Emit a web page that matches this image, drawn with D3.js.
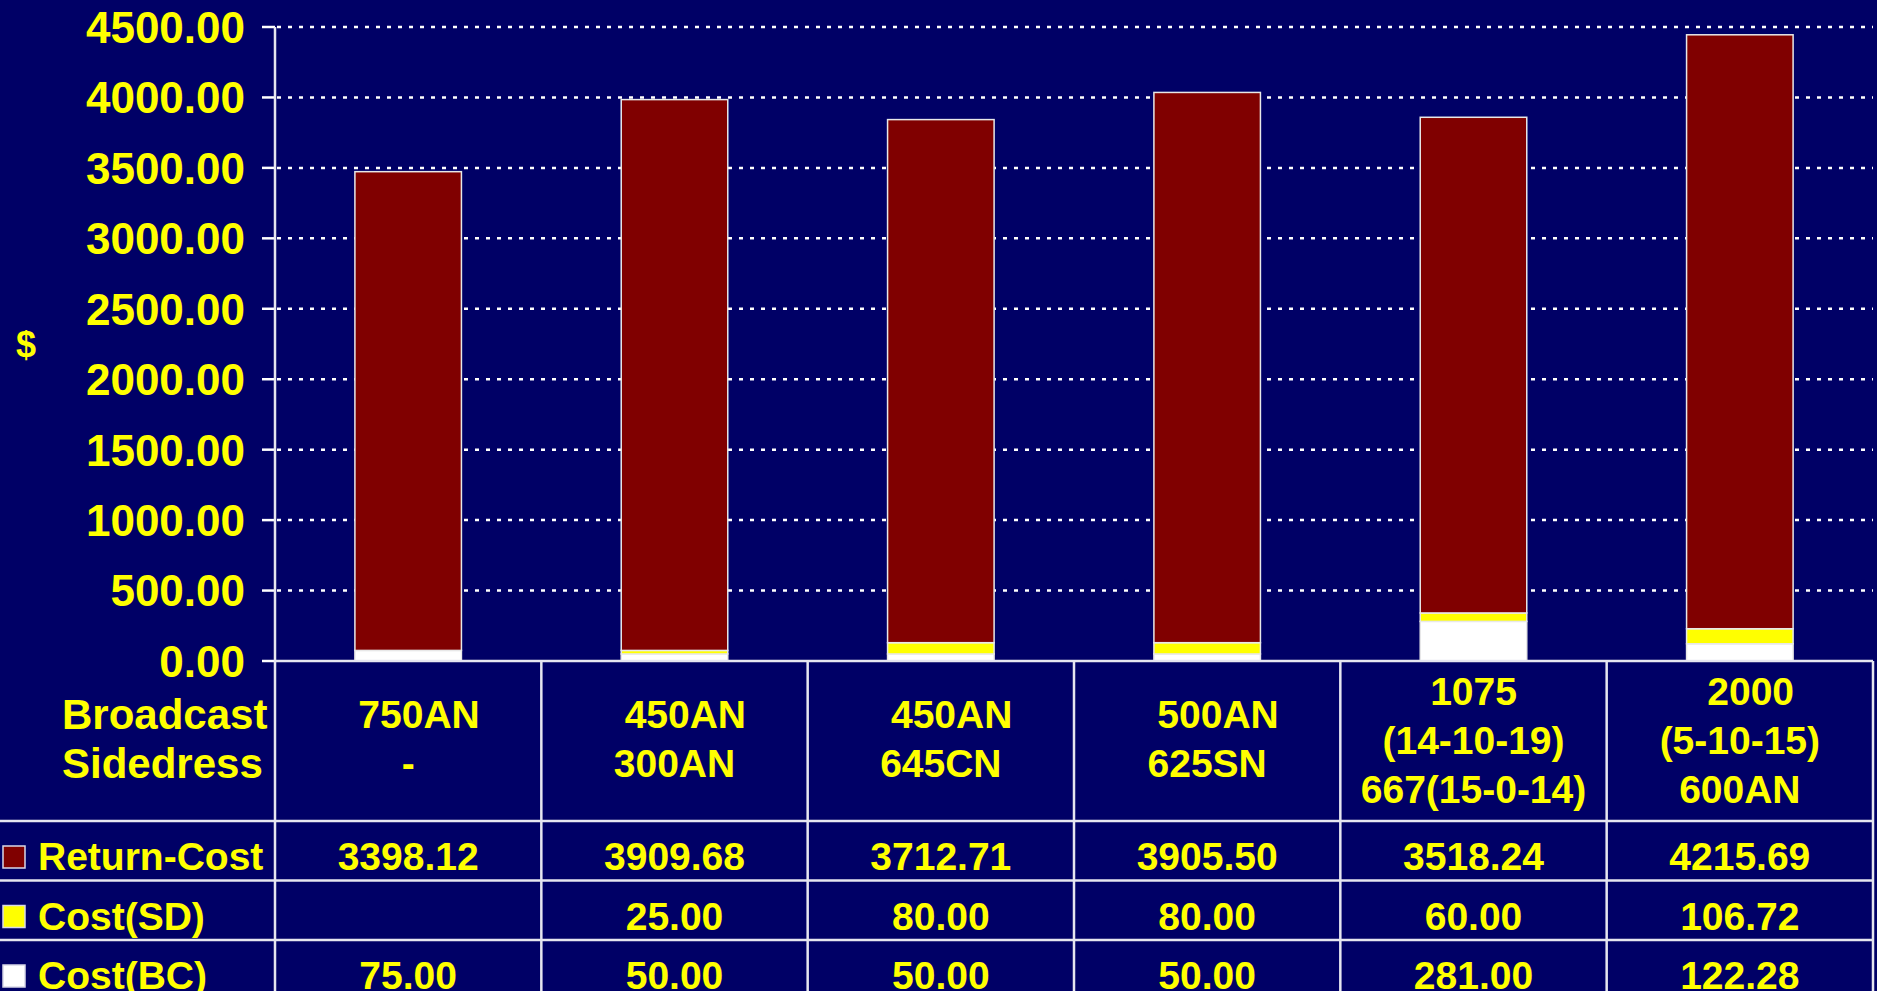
<!DOCTYPE html>
<html>
<head>
<meta charset="utf-8">
<script src="https://cdn.jsdelivr.net/npm/d3@7"></script>
<style>
  html, body { margin: 0; padding: 0; background: #000066; overflow: hidden; }
  svg { display: block; }
  text { font-family: "Liberation Sans", Arial, sans-serif; font-weight: bold; fill: #ffff00; white-space: pre; }
</style>
</head>
<body>
<svg id="chart" width="1877" height="991"></svg>
<script>
var categories = [
  ["  750AN", "-"],
  ["  450AN", "300AN"],
  ["  450AN", "645CN"],
  ["  500AN", "625SN"],
  ["1075", "(14-10-19)", "667(15-0-14)"],
  ["  2000", "(5-10-15)", "600AN"]
];
var rowHeader = ["Broadcast", "Sidedress"];
var seriesNames = ["Return-Cost", "Cost(SD)", "Cost(BC)"];
var seriesColors = ["#800000", "#ffff00", "#ffffff"];
var returnCost = [3398.12, 3909.68, 3712.71, 3905.50, 3518.24, 4215.69];
var costSD = [null, 25.00, 80.00, 80.00, 60.00, 106.72];
var costBC = [75.00, 50.00, 50.00, 50.00, 281.00, 122.28];
var yTicks = [0, 500, 1000, 1500, 2000, 2500, 3000, 3500, 4000, 4500];

var svg = d3.select("#chart"),
  width = +svg.attr("width"),
  height = +svg.attr("height"),
  plotLeft = 275,
  plotRight = 1873,
  plotTop = 27,
  base = 661,
  rowTops = [821, 880.5, 940],
  lineColor = "#e6e6f0";

var fmt = d3.format(".2f");

var y = d3.scaleLinear()
  .domain([0, 4500])
  .range([base, plotTop]);

var x = d3.scaleBand()
  .domain(d3.range(categories.length))
  .range([plotLeft, plotRight])
  .paddingInner(0.6)
  .paddingOuter(0.3);

var step = x.step();

var rows = categories.map(function(c, i) {
  return {rc: returnCost[i], sd: costSD[i] || 0, bc: costBC[i]};
});
var keys = ["bc", "sd", "rc"];
var colorByKey = {rc: seriesColors[0], sd: seriesColors[1], bc: seriesColors[2]};
var stacked = d3.stack().keys(keys)(rows);

svg.append("rect")
  .attr("width", width)
  .attr("height", height)
  .attr("fill", "#000066");

// dotted gridlines + ticks
var grid = svg.append("g");
grid.selectAll("line.grid")
  .data(yTicks.filter(function(d) { return d > 0; }))
  .enter().append("line")
  .attr("class", "grid")
  .attr("x1", plotLeft + 2)
  .attr("x2", plotRight)
  .attr("y1", function(d) { return y(d); })
  .attr("y2", function(d) { return y(d); })
  .attr("stroke", "#ffffff")
  .attr("stroke-width", 2.5)
  .attr("stroke-dasharray", "4,7");

grid.selectAll("line.tick")
  .data(yTicks)
  .enter().append("line")
  .attr("class", "tick")
  .attr("x1", plotLeft - 13)
  .attr("x2", plotLeft)
  .attr("y1", function(d) { return y(d); })
  .attr("y2", function(d) { return y(d); })
  .attr("stroke", "#ffffff")
  .attr("stroke-width", 2.5);

grid.selectAll("text")
  .data(yTicks)
  .enter().append("text")
  .attr("x", 245)
  .attr("y", function(d) { return y(d); })
  .attr("dy", "0.36em")
  .attr("text-anchor", "end")
  .style("font-size", "44px")
  .text(function(d) { return fmt(d); });

svg.append("text")
  .attr("x", 26)
  .attr("y", (plotTop + base) / 2)
  .attr("dy", "0.36em")
  .attr("text-anchor", "middle")
  .style("font-size", "36px")
  .text("$");

// stacked bars
svg.append("g")
  .selectAll("g")
  .data(stacked)
  .enter().append("g")
  .attr("fill", function(s) { return colorByKey[s.key]; })
  .selectAll("rect")
  .data(function(s) { return s.filter(function(d) { return d[1] > d[0]; }); })
  .enter().append("rect")
  .attr("x", function(d) { return x(rows.indexOf(d.data)); })
  .attr("width", x.bandwidth())
  .attr("y", function(d) { return y(d[1]); })
  .attr("height", function(d) { return y(d[0]) - y(d[1]); })
  .attr("stroke", "#e8e8e8")
  .attr("stroke-width", 1.5);

// data table
var table = svg.append("g")
  .attr("stroke", lineColor)
  .attr("stroke-width", 2.5);

table.append("line")
  .attr("x1", plotLeft).attr("x2", plotRight)
  .attr("y1", base).attr("y2", base);

table.selectAll("line.h")
  .data(rowTops)
  .enter().append("line")
  .attr("class", "h")
  .attr("x1", 0).attr("x2", plotRight)
  .attr("y1", function(d) { return d; })
  .attr("y2", function(d) { return d; });

table.selectAll("line.v")
  .data(d3.range(categories.length + 1))
  .enter().append("line")
  .attr("class", "v")
  .attr("x1", function(i) { return plotLeft + i * step; })
  .attr("x2", function(i) { return plotLeft + i * step; })
  .attr("y1", function(i) { return i === 0 ? plotTop : base; })
  .attr("y2", height);

var headMid = (base + rowTops[0]) / 2,
  lineGap = 49;

svg.append("g")
  .selectAll("text")
  .data(rowHeader)
  .enter().append("text")
  .attr("x", 62)
  .attr("y", function(d, i) { return headMid - 3 + (i - (rowHeader.length - 1) / 2) * lineGap; })
  .attr("dy", "0.36em")
  .style("font-size", "42px")
  .text(function(d) { return d; });

var catCell = svg.append("g")
  .selectAll("g")
  .data(categories)
  .enter().append("g")
  .attr("transform", function(d, i) { return "translate(" + (x(i) + x.bandwidth() / 2) + ",0)"; });

catCell.selectAll("text")
  .data(function(d) { return d.map(function(t, j) { return {t: t, j: j, n: d.length}; }); })
  .enter().append("text")
  .attr("y", function(d) { return headMid - (d.n === 2 ? 3 : 1) + (d.j - (d.n - 1) / 2) * lineGap; })
  .attr("dy", "0.36em")
  .attr("text-anchor", "middle")
  .style("font-size", "39px")
  .text(function(d) { return d.t; });

var seriesValues = [returnCost, costSD, costBC];

var seriesRow = svg.append("g")
  .selectAll("g")
  .data(seriesNames)
  .enter().append("g")
  .attr("transform", function(d, i) { return "translate(0," + rowTops[i] + ")"; });

seriesRow.append("rect")
  .attr("x", 3)
  .attr("y", 25)
  .attr("width", 22)
  .attr("height", 22)
  .attr("fill", function(d, i) { return seriesColors[i]; })
  .attr("stroke", "#d8d8e8")
  .attr("stroke-width", 1.5);

seriesRow.append("text")
  .attr("x", 38)
  .attr("y", 49)
  .style("font-size", "39px")
  .text(function(d) { return d; });

seriesRow.selectAll("text.val")
  .data(function(d, i) { return seriesValues[i]; })
  .enter().append("text")
  .attr("class", "val")
  .attr("x", function(d, i) { return x(i) + x.bandwidth() / 2; })
  .attr("y", 49)
  .attr("text-anchor", "middle")
  .style("font-size", "39px")
  .text(function(d) { return d == null ? "" : fmt(d); });
</script>
</body>
</html>
